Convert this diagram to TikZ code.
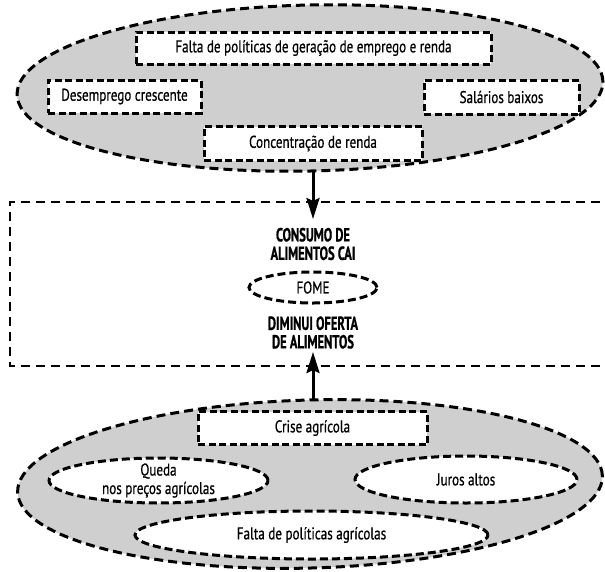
\documentclass[tikz,border=0pt]{standalone}
\usepackage{fontspec}
\setmainfont{PT Sans}[FakeStretch=0.77,FakeBold=0.7]
\newfontfamily\headfont{PT Sans}[FakeStretch=0.66,FakeBold=0.8]
\usetikzlibrary{shapes.geometric,arrows.meta}
\tikzset{
  bigell/.style={ellipse, draw, fill=black!19, line width=3pt, dash pattern=on 9pt off 5pt, inner sep=0pt},
  dbox/.style={rectangle, draw, fill=white, line width=3pt, dash pattern=on 7pt off 3.5pt, inner sep=0pt, font=\fontsize{17}{19}\selectfont},
  dell/.style={ellipse, draw, fill=white, line width=3pt, dash pattern=on 8pt off 4pt, inner sep=0pt},
  elltxt/.style={font=\fontsize{17}{18.5}\selectfont, align=center, inner sep=0pt},
  headtxt/.style={font=\headfont\bfseries\fontsize{19}{18.5}\selectfont, align=center, inner sep=0pt},
  midrect/.style={line width=2.6pt, dash pattern=on 9pt off 6pt},
  arr/.style={line width=3pt, -{Stealth[length=21pt,width=13pt,inset=3pt]}}
}
\begin{document}
\begin{tikzpicture}[x=1pt,y=-1pt]
\useasboundingbox (0,0) rectangle (605,571);
% top cluster
\node[bigell, rotate=1.3, minimum width=586pt, minimum height=166pt] (top) at (310,88) {};
\node[dbox, minimum width=355pt, minimum height=32pt] (b1) at (313.5,48) {Falta de políticas de geração de emprego e renda};
\node[dbox, minimum width=153pt, minimum height=33pt] (b2) at (124.5,96.5) {Desemprego crescente};
\node[dbox, minimum width=155pt, minimum height=34pt] (b3) at (501.5,97) {Salários baixos};
\node[dbox, minimum width=218pt, minimum height=34pt] (b4) at (313,143.5) {Concentração de renda};
% middle
\draw[midrect] (615,202) -- (10,202) -- (10,366) -- (615,366);
\node[headtxt] (cons) at (313,244) {CONSUMO DE\\ALIMENTOS CAI};
\node[dell, minimum width=128pt, minimum height=31pt, font=\fontsize{17}{19}\selectfont] (fome) at (313,287.5) {FOME};
\node[headtxt] (dimi) at (313,332.5) {DIMINUI OFERTA\\DE ALIMENTOS};
% bottom cluster
\node[bigell, rotate=1.6, minimum width=585pt, minimum height=168pt] (bot) at (310,484) {};
\node[dbox, minimum width=229pt, minimum height=33pt] (crise) at (312.5,428) {Crise agrícola};
\node[dell, minimum width=219pt, minimum height=45pt, label={[elltxt]center:Queda\\nos preços agrícolas}] (queda) at (158.5,480.5) {};
\node[dell, minimum width=222pt, minimum height=47pt, label={[elltxt]center:Juros altos}] (juros) at (466,479.5) {};
\node[dell, minimum width=353pt, minimum height=48pt, label={[elltxt]center:Falta de políticas agrícolas}] (faltaagr) at (311.5,535) {};
% arrows
\coordinate (tipA) at (313,219);
\coordinate (tipB) at (313,352);
\draw[arr] (top.south -| tipA) -- (tipA);
\draw[arr] (bot.north -| tipB) -- (tipB);
\end{tikzpicture}
\end{document}
